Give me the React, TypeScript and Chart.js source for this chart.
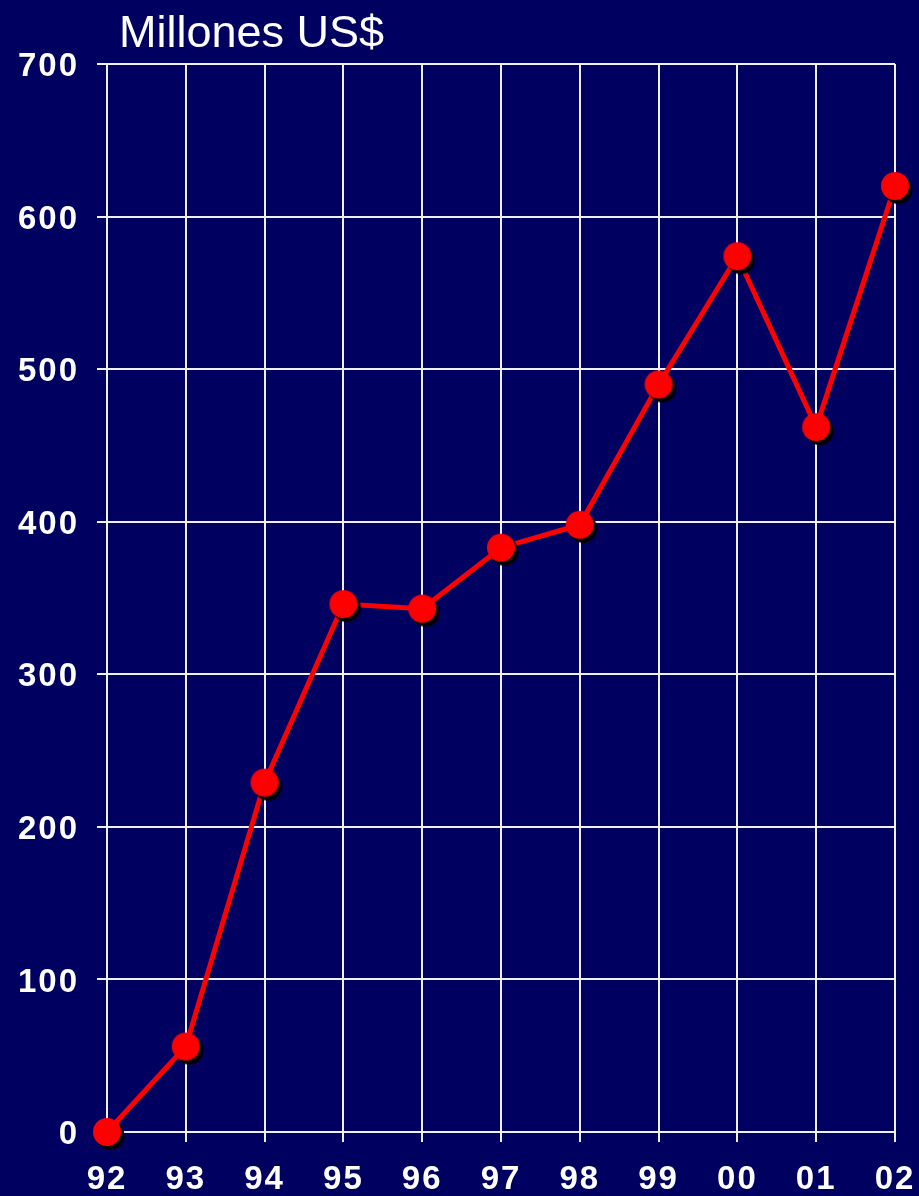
import React, { useEffect, useRef } from 'react';
import { Chart, registerables } from 'chart.js';

Chart.register(...registerables);

const years = ['92', '93', '94', '95', '96', '97', '98', '99', '00', '01', '02'];
const values = [0, 56, 229, 346, 343, 383, 398, 490, 574, 462, 620];
const yMin = 0;
const yMax = 700;
const yStep = 100;
const titleText = 'Millones US$';

const BG = '#000060';
const GRID = '#f0f0f4';
const FONT = '"Liberation Sans", Arial, Helvetica, sans-serif';

function makePointImage(): HTMLCanvasElement {
  const c = document.createElement('canvas');
  c.width = 40;
  c.height = 40;
  const g = c.getContext('2d')!;
  g.fillStyle = '#000000';
  g.beginPath();
  g.arc(23.5, 24, 14, 0, Math.PI * 2);
  g.fill();
  g.fillStyle = '#ff0000';
  g.beginPath();
  g.arc(20, 20, 14, 0, Math.PI * 2);
  g.fill();
  return c;
}

export default function App() {
  const ref = useRef<HTMLCanvasElement | null>(null);

  useEffect(() => {
    if (!ref.current) return;
    const pointImg = makePointImage();

    const bgPlugin = {
      id: 'bgAndSpacing',
      beforeDraw(chart: any) {
        const ctx = chart.ctx;
        ctx.save();
        ctx.fillStyle = BG;
        ctx.fillRect(0, 0, chart.width, chart.height);
        ctx.restore();
        ctx.letterSpacing = '2px';
      },
      afterDraw(chart: any) {
        const ctx = chart.ctx;
        ctx.save();
        ctx.letterSpacing = '0px';
        ctx.fillStyle = '#ffffff';
        ctx.font = `45px ${FONT}`;
        ctx.textAlign = 'left';
        ctx.textBaseline = 'alphabetic';
        ctx.fillText(titleText, chart.chartArea.left + 12, 47);
        ctx.restore();
      },
    };

    const chart = new Chart(ref.current, {
      type: 'line',
      data: {
        labels: years,
        datasets: [
          {
            data: values,
            borderColor: '#ff0000',
            borderWidth: 5,
            pointStyle: pointImg as any,
            pointRadius: 14,
            pointHoverRadius: 14,
            tension: 0,
            fill: false,
            clip: false as any,
          },
        ],
      },
      options: {
        animation: false,
        responsive: false,
        maintainAspectRatio: false,
        devicePixelRatio: 1,
        layout: { padding: { top: 64, right: 24, left: 0, bottom: 0 } },
        plugins: {
          legend: { display: false },
          tooltip: { enabled: false },
          title: { display: false },
        },
        scales: {
          x: {
            type: 'category',
            offset: false,
            afterFit(scale: any) {
              scale.height = 64;
              scale.paddingLeft = 0;
              scale.paddingRight = 0;
            },
            grid: {
              color: GRID,
              lineWidth: 2,
              tickLength: 10,
              drawTicks: true,
            },
            border: { display: true, color: GRID, width: 2 },
            ticks: {
              color: '#ffffff',
              font: { family: FONT, size: 33, weight: 'bold' },
              padding: 18,
              maxRotation: 0,
              autoSkip: false,
            },
          },
          y: {
            min: yMin,
            max: yMax,
            afterFit(scale: any) {
              scale.width = 107;
              scale.paddingTop = 0;
              scale.paddingBottom = 0;
            },
            grid: {
              color: GRID,
              lineWidth: 2,
              tickLength: 10,
              drawTicks: true,
            },
            border: { display: true, color: GRID, width: 2 },
            ticks: {
              stepSize: yStep,
              color: '#ffffff',
              font: { family: FONT, size: 33, weight: 'bold' },
              padding: 18,
              labelOffset: 3,
            },
          },
        },
      },
      plugins: [bgPlugin],
    });

    return () => chart.destroy();
  }, []);

  return (
    <div style={{ position: 'absolute', left: 0, top: 0, width: 919, height: 1196, background: BG }}>
      <canvas ref={ref} width={919} height={1196} style={{ display: 'block', width: 919, height: 1196 }} />
    </div>
  );
}
